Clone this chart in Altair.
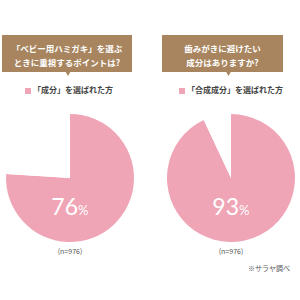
import altair as alt
import pandas as pd

questions = ["「ベビー用ハミガキ」を選ぶ\nときに重視するポイントは?", "歯みがきに避けたい\n成分はありますか?"]
legend_labels = ["「成分」を選ばれた方", "「合成成分」を選ばれた方"]
selected_pct = [76, 93]
categories = ["selected", "other"]
sample_label = "(n=976)"
source_note = "※サラヤ調べ"

PINK = "#F0A5B7"
BROWN = "#A8855E"
JP = "Noto Sans CJK JP"

rows = []
for i, v in enumerate(selected_pct):
    rows.append({"pie": i, "cat": "selected", "value": v, "order": 0})
    rows.append({"pie": i, "cat": "other", "value": 100 - v, "order": 1})
df = pd.DataFrame(rows)

centers = [70, 231]
box_x = [(2, 132), (162, 283)]
legend_sq_x = [28, 182]

layers = []
for i in range(2):
    cx = centers[i]
    pie = alt.Chart(df).transform_filter(alt.datum.pie == i).mark_arc(radius=64).encode(
        theta=alt.Theta("value:Q", stack=True),
        order=alt.Order("order:Q"),
        color=alt.Color("cat:N", scale=alt.Scale(domain=categories, range=[PINK, "#ffffff"]), legend=None),
        x=alt.value(cx), y=alt.value(178),
    )
    layers.append(pie)
    # header box
    layers.append(alt.Chart(pd.DataFrame({"q": [questions[i]]})).mark_rect(color=BROWN).encode(
        x=alt.value(box_x[i][0]), x2=alt.value(box_x[i][1]), y=alt.value(35), y2=alt.value(72)))
    layers.append(alt.Chart(pd.DataFrame({"q": [questions[i]]})).mark_point(
        shape="triangle-down", filled=True, color=BROWN, size=45, opacity=1).encode(
        x=alt.value((box_x[i][0] + box_x[i][1]) / 2 + (1 if i == 0 else 6)), y=alt.value(73)))
    layers.append(alt.Chart(pd.DataFrame({"q": [questions[i]]})).mark_text(
        font=JP, fontSize=8.5, fontWeight="bold", color="white", lineBreak="\n", lineHeight=14,
        baseline="middle", align="center").encode(
        text="q:N", x=alt.value((box_x[i][0] + box_x[i][1]) / 2), y=alt.value(49)))
    # legend
    layers.append(alt.Chart(pd.DataFrame({"l": [legend_labels[i]]})).mark_square(
        color=PINK, size=36, opacity=1).encode(x=alt.value(legend_sq_x[i]), y=alt.value(91)))
    layers.append(alt.Chart(pd.DataFrame({"l": [legend_labels[i]]})).mark_text(
        font=JP, fontSize=8, fontWeight="bold", color="#444444", align="left", baseline="middle").encode(
        text="l:N", x=alt.value(legend_sq_x[i] + 5), y=alt.value(91)))
    # percent labels
    pct_df = pd.DataFrame({"v": [str(selected_pct[i])], "p": ["%"]})
    layers.append(alt.Chart(pct_df).mark_text(
        font="Lato", fontSize=23, fontWeight="normal", color="white", align="right", baseline="alphabetic").encode(
        text="v:N", x=alt.value(cx + 8), y=alt.value(215)))
    layers.append(alt.Chart(pct_df).mark_text(
        font="Lato", fontSize=13, fontWeight="normal", color="white", align="left", baseline="alphabetic").encode(
        text="p:N", x=alt.value(cx + 8), y=alt.value(215)))
    # sample size
    layers.append(alt.Chart(pd.DataFrame({"n": [sample_label]})).mark_text(
        font=JP, fontSize=7, color="#555555", align="center", baseline="middle").encode(
        text="n:N", x=alt.value(cx), y=alt.value(252)))

layers.append(alt.Chart(pd.DataFrame({"s": [source_note]})).mark_text(
    font=JP, fontSize=7, color="#555555", align="right", baseline="middle").encode(
    text="s:N", x=alt.value(290), y=alt.value(269)))

chart = alt.layer(*layers).properties(
    width=300, height=300, autosize=alt.AutoSizeParams(type="none"), padding=0
).configure_view(stroke=None)

chart.save("out.html", embed_options={"renderer": "svg", "actions": False})
